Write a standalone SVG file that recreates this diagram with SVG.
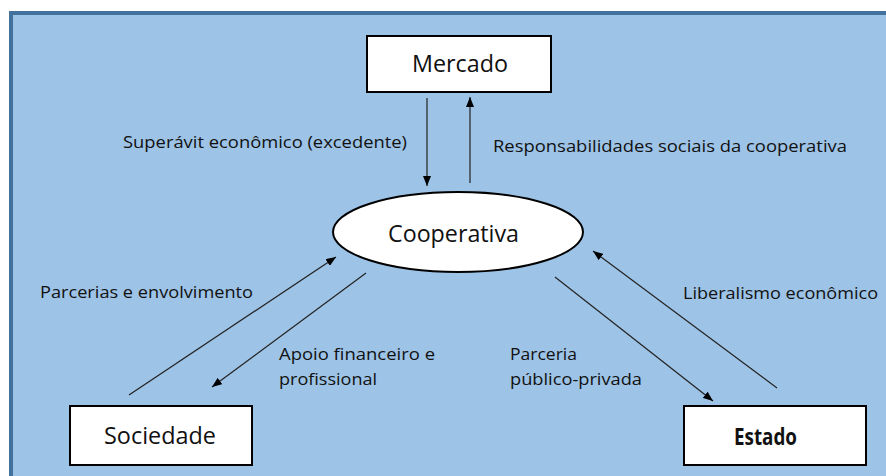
<svg xmlns="http://www.w3.org/2000/svg" width="886" height="476" viewBox="0 0 886 476">
<style>
.box{fill:#fff;stroke:#000;stroke-width:2}
.lbl{font-family:"Open Sans","Liberation Sans",Arial,sans-serif;font-size:17px;fill:#111}
.node{font-family:"Open Sans","Liberation Sans",Arial,sans-serif;font-size:23px;fill:#111}
.conn line{stroke:#222;stroke-width:1.2}
</style>
<defs>
<marker id="ah" viewBox="0 0 10 8" refX="10" refY="4" markerWidth="10" markerHeight="8" markerUnits="userSpaceOnUse" orient="auto">
<path d="M0,0 L10,4 L0,8 Z" fill="#000"/>
</marker>
</defs>
<rect x="0" y="0" width="886" height="476" fill="#fff"/>
<rect x="11" y="13" width="900" height="480" fill="#9dc3e6" stroke="#41719c" stroke-width="4"/>
<g class="conn">
<line x1="427" y1="98" x2="427" y2="186" marker-end="url(#ah)"/>
<line x1="470" y1="183" x2="470" y2="97" marker-end="url(#ah)"/>
<line x1="129" y1="395" x2="336" y2="257" marker-end="url(#ah)"/>
<line x1="366" y1="273" x2="212" y2="387" marker-end="url(#ah)"/>
<line x1="555" y1="277" x2="713" y2="401" marker-end="url(#ah)"/>
<line x1="777" y1="388" x2="593" y2="251" marker-end="url(#ah)"/>
</g>
<g id="labels">
<text class="lbl" x="123" y="148" textLength="284" lengthAdjust="spacingAndGlyphs">Superávit econômico (excedente)</text>
<text class="lbl" x="493" y="152" textLength="354" lengthAdjust="spacingAndGlyphs">Responsabilidades sociais da cooperativa</text>
<text class="lbl" x="40" y="298" textLength="213" lengthAdjust="spacingAndGlyphs">Parcerias e envolvimento</text>
<text class="lbl" x="279" y="360" textLength="156" lengthAdjust="spacingAndGlyphs">Apoio financeiro e</text>
<text class="lbl" x="279" y="385" textLength="98" lengthAdjust="spacingAndGlyphs">profissional</text>
<text class="lbl" x="683" y="299" textLength="195" lengthAdjust="spacingAndGlyphs">Liberalismo econômico</text>
<text class="lbl" x="510" y="360" textLength="67" lengthAdjust="spacingAndGlyphs">Parceria</text>
<text class="lbl" x="510" y="385" textLength="132" lengthAdjust="spacingAndGlyphs">público-privada</text>
</g>
<g id="mercado">
<rect class="box" x="367" y="36" width="184" height="56"/>
<text class="node" x="412" y="72" textLength="96" lengthAdjust="spacingAndGlyphs">Mercado</text>
</g>
<g id="cooperativa">
<ellipse cx="458" cy="232" rx="125" ry="40" fill="#fff" stroke="#000" stroke-width="2"/>
<text class="node" x="388" y="242" textLength="131" lengthAdjust="spacingAndGlyphs">Cooperativa</text>
</g>
<g id="sociedade">
<rect class="box" x="70" y="406" width="182" height="59"/>
<text class="node" x="104" y="444" textLength="112" lengthAdjust="spacingAndGlyphs">Sociedade</text>
</g>
<g id="estado">
<rect class="box" x="684" y="406" width="182" height="59"/>
<text class="node" x="734" y="445" font-size="18" font-weight="bold" textLength="63" lengthAdjust="spacingAndGlyphs">Estado</text>
</g>
</svg>
